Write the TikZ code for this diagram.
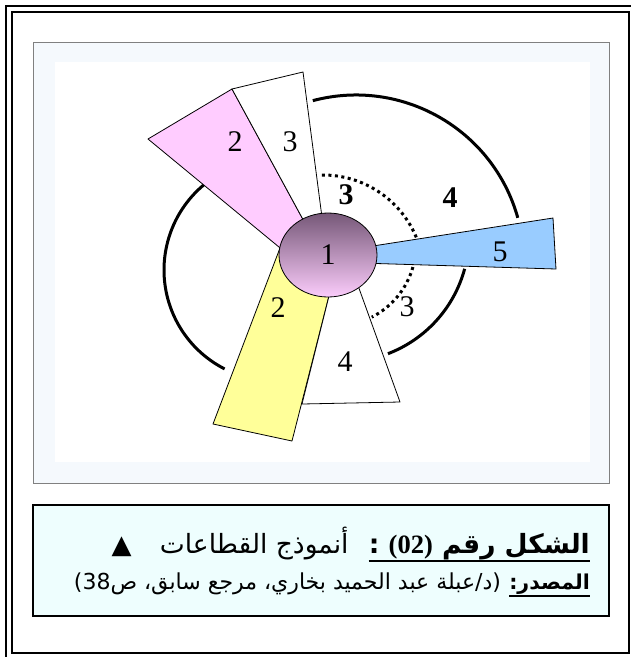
\documentclass[tikz,border=0pt]{standalone}
\usepackage{fontspec}
\setmainfont{Liberation Serif}
\newfontfamily\arabicfont[Script=Arabic]{DejaVu Sans}
\newfontfamily\symfont{DejaVu Sans}
\TeXXeTstate=1
\usetikzlibrary{shapes.geometric}
\definecolor{ink}{HTML}{000000}
\definecolor{framegray}{HTML}{808080}
\definecolor{panelblue}{HTML}{F5F9FD}
\definecolor{capfill}{HTML}{EEFEFE}
\definecolor{sectpink}{HTML}{FFCCFF}
\definecolor{sectyellow}{HTML}{FFFF99}
\definecolor{sectblue}{HTML}{99CCFF}
\definecolor{hubtop}{HTML}{765878}
\definecolor{hubbottom}{HTML}{FBCCFB}

\begin{document}
\begin{tikzpicture}[x=1pt,y=-1pt,
  sect/.style={draw=ink,line width=0.8pt,line join=round},
  ring/.style={draw=ink,line width=3pt},
  dotring/.style={draw=ink,line width=3pt,dash pattern=on 3pt off 3.5pt},
  num/.style={inner sep=0pt,font=\fontsize{30}{30}\selectfont},
  bnum/.style={inner sep=0pt,font=\fontsize{30}{30}\selectfont\bfseries},
  hub/.style={ellipse,draw=ink,line width=0.8pt,minimum width=98pt,
              minimum height=84pt,inner sep=0pt,top color=hubtop,
              bottom color=hubbottom,font=\fontsize{30}{30}\selectfont},
  captxt/.style={inner sep=0pt,anchor=base east},
  uline/.style={line width=2.5pt}
]
\useasboundingbox (0,0) rectangle (631,657);
% frame
\draw[line width=2pt] (6,657) -- (6,6) -- (631,6);
\draw[line width=2pt] (12,12) rectangle (629,653);
\filldraw[fill=panelblue,draw=framegray,line width=1pt] (33,42) rectangle (609,483);
\fill[white] (55,62) rectangle (590,462);
\filldraw[fill=capfill,draw=ink,line width=1.5pt] (33,505) rectangle (609,616);

% rings
\draw[ring] (275,270) ++(-129.5:111) arc[start angle=-129.5,end angle=-243,radius=111];
\draw[ring] (356,263) ++(-104.9:168) arc[start angle=-104.9,end angle=-15.6,radius=168];
\draw[ring] (343,236) ++(15.1:126) arc[start angle=15.1,end angle=69.1,radius=126];
\draw[dotring] (323,276) ++(-90.6:101) arc[start angle=-90.6,end angle=-22,radius=101];
\draw[dotring] (335,245) ++(15.8:81) arc[start angle=15.8,end angle=63,radius=81];

% sectors
\filldraw[sect,fill=sectpink] (148,139) -- (232,89) -- (306,225) -- (285,252) -- cycle;
\filldraw[sect,fill=white] (232,89) -- (303,72) -- (323,225) -- (306,225) -- cycle;
\filldraw[sect,fill=sectblue] (360,248) -- (553,218) -- (556,269) -- (360,263) -- cycle;
\filldraw[sect,fill=sectyellow] (280,248) -- (213,424) -- (292,441) -- (333,280) -- cycle;
\filldraw[sect,fill=white] (333,280) -- (302,404) -- (400,402) -- (356,280) -- cycle;

\node[hub] (core) at (328,255) {1};

\node[num] (lblpink) at (235,142) {2};
\node[num] (lbltop) at (290,142) {3};
\node[bnum] (lblinner) at (346,195) {3};
\node[bnum] (lblouter) at (450,198) {4};
\node[num] (lblblue) at (500,252) {5};
\node[num] (lbldot) at (407,307) {3};
\node[num] (lblyellow) at (278,308) {2};
\node[num] (lblbottom) at (345,362) {4};

% caption
\node[captxt,font=\arabicfont\fontsize{26.5}{30}\selectfont\bfseries] (figtag) at (590,553)
  {\beginR الشكل رقم {\rmfamily (02)} :\endR};
\node[captxt,font=\arabicfont\fontsize{26.5}{30}\selectfont] (figname) at ([xshift=-20pt]figtag.base west)
  {\beginR أنموذج القطاعات\endR};
\node[captxt,font=\symfont\fontsize{26}{30}\selectfont] (figmark) at ([xshift=-28pt]figname.base west) {▲};
\draw[uline] ([yshift=-8pt]figtag.base west) -- ([yshift=-8pt]figtag.base east);

\node[captxt,font=\arabicfont\fontsize{20.5}{24}\selectfont\bfseries] (srctag) at (590,589)
  {\beginR المصدر:\endR};
\node[captxt,font=\arabicfont\fontsize{22}{26}\selectfont] (srctext) at ([xshift=-8pt]srctag.base west)
  {\beginR (د/عبلة عبد الحميد بخاري، مرجع سابق، ص38)\endR};
\draw[uline] ([yshift=-7pt]srctag.base west) -- ([yshift=-7pt]srctag.base east);
\end{tikzpicture}
\end{document}
